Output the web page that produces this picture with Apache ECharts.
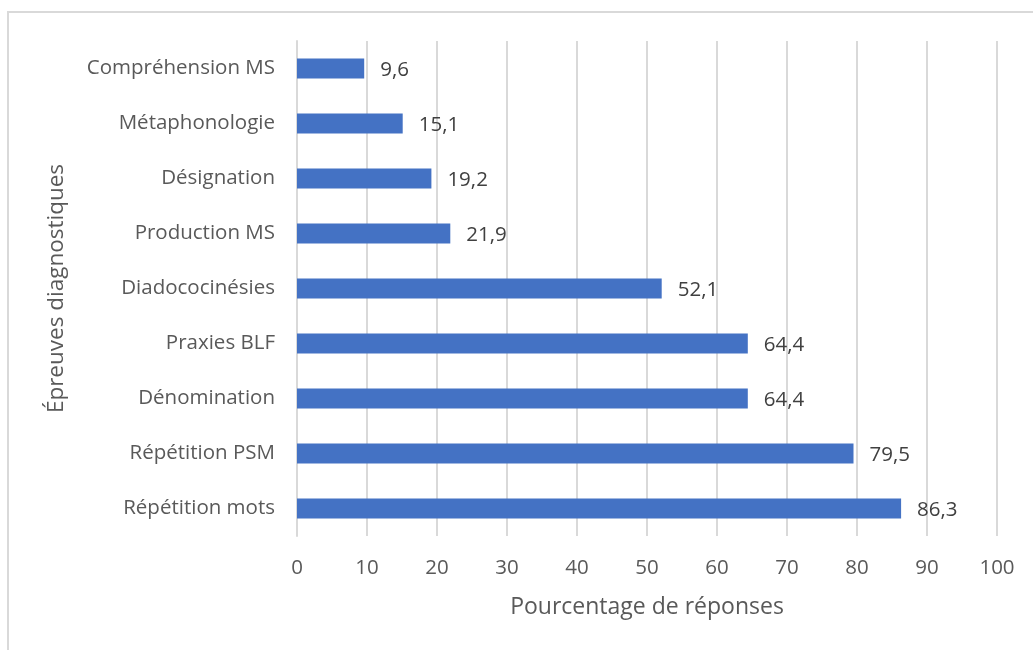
<!DOCTYPE html>
<html lang="fr">
  <head>
    <meta charset="utf-8">
    <title>Épreuves diagnostiques</title>
    <script src="https://cdn.jsdelivr.net/npm/echarts@6/dist/echarts.min.js"></script>
    <style>
      html, body { margin: 0; padding: 0; background: #fff; }
      #chart { width: 1033px; height: 650px; }
    </style>
  </head>
  <body>
    <div id="chart"></div>
    <script>
    // categories listed bottom to top (category axis starts at the bottom)
    const categories = [
      'Répétition mots', 'Répétition PSM', 'Dénomination', 'Praxies BLF',
      'Diadococinésies', 'Production MS', 'Désignation', 'Métaphonologie',
      'Compréhension MS'
    ];
    const values = [86.3, 79.5, 64.4, 64.4, 52.1, 21.9, 19.2, 15.1, 9.6];
    const xTitle = 'Pourcentage de réponses';
    const yTitle = 'Épreuves diagnostiques';

    const font = '"Open Sans", "Noto Sans", sans-serif';
    const grey = '#595959';

    const chart = echarts.init(document.getElementById('chart'));
    chart.setOption({
      animation: false,
      textStyle: { fontFamily: font },
      graphic: [{
        type: 'rect',
        shape: { x: 8, y: 12, width: 1200, height: 800 },
        style: { fill: 'none', stroke: '#d9d9d9', lineWidth: 2 },
        silent: true
      }],
      grid: { left: 297, right: 36, top: 41, bottom: 114 },
      xAxis: {
        type: 'value',
        min: 0, max: 100, interval: 10,
        name: xTitle,
        nameLocation: 'middle',
        nameGap: 60,
        nameTextStyle: { fontSize: 23, color: grey, fontFamily: font },
        axisLine: { show: false },
        axisTick: { show: false },
        axisLabel: { fontSize: 20.5, color: grey, margin: 22, fontFamily: font },
        splitLine: { lineStyle: { color: '#d9d9d9', width: 2 } }
      },
      yAxis: {
        type: 'category',
        data: categories,
        name: yTitle,
        nameLocation: 'middle',
        nameGap: 229,
        nameTextStyle: { fontSize: 22.5, color: grey, fontFamily: font },
        axisLine: { show: true, lineStyle: { color: '#d9d9d9', width: 2 } },
        axisTick: { show: false },
        axisLabel: { fontSize: 20.5, color: grey, margin: 22, fontFamily: font }
      },
      series: [{
        type: 'bar',
        data: values,
        barWidth: 20,
        itemStyle: { color: '#4472C4' },
        label: {
          show: true,
          position: 'right',
          distance: 16,
          fontSize: 20.5,
          color: '#404040',
          fontFamily: font,
          offset: [0, 2],
          formatter: p => String(p.value).replace('.', ',')
        }
      }]
    });
    </script>
  </body>
</html>
